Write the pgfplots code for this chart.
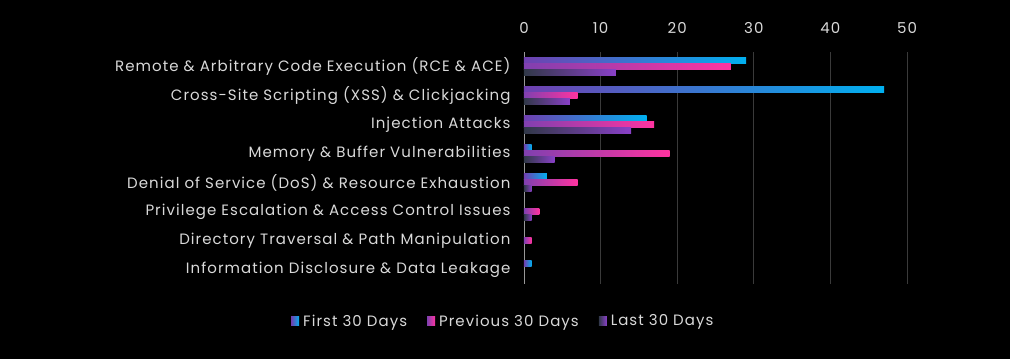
\documentclass[border=0pt]{standalone}
\usepackage{pgfplots}
\pgfplotsset{compat=1.18}
\usepackage{fontspec}
\setmainfont{Poppins}[LetterSpace=7]
\definecolor{txt}{HTML}{D9D9D9}
\definecolor{gridc}{HTML}{3A3A3A}
\definecolor{firstR}{HTML}{00B0F0}
\definecolor{firstL}{HTML}{7040B0}
\definecolor{prevR}{HTML}{FF33A0}
\definecolor{prevL}{HTML}{8040B0}
\definecolor{lastR}{HTML}{8A40C8}
\definecolor{lastL}{HTML}{303848}
\pgfplotsset{
  sfirst/.style={draw=none, left color=firstL, right color=firstR, bar shift=6pt},
  sprev/.style={draw=none, left color=prevL, right color=prevR, bar shift=0pt},
  slast/.style={draw=none, left color=lastL, right color=lastR, bar shift=-6pt},
}
\begin{document}
\begin{tikzpicture}
\fill[black] (-524pt,-75pt) rectangle (486pt,284pt);
\begin{axis}[
  at={(0,0)}, anchor=south west,
  scale only axis, width=383pt, height=232pt,
  xbar, bar width=5.5pt,
  xmin=0, xmax=50, ymin=-0.5, ymax=7.5, y dir=reverse,
  axis x line*=top, axis y line*=left,
  x axis line style={draw=none},
  y axis line style={draw=txt!70!black, line width=0.8pt, -},
  xmajorgrids, grid style={gridc, line width=0.8pt},
  xtick={0,10,...,50}, ytick={0,...,7},
  major tick length=0pt,
  /pgf/number format/assume math mode=true,
  tick label style={text=txt, font=\fontsize{15}{17}\selectfont},
  xticklabel style={yshift=15pt},
  yticklabel style={xshift=-10pt},
  yticklabels={Remote \& Arbitrary Code Execution (RCE \& ACE),Cross-Site Scripting (XSS) \& Clickjacking,Injection Attacks,Memory \& Buffer Vulnerabilities,Denial of Service (DoS) \& Resource Exhaustion,Privilege Escalation \& Access Control Issues,Directory Traversal \& Path Manipulation,Information Disclosure \& Data Leakage},
  legend columns=3,
  legend style={draw=none, fill=none, text=txt, font=\fontsize{15}{17}\selectfont,
    at={(-0.054,-0.16)}, anchor=center,
    /tikz/every even column/.append style={column sep=18pt},
    /tikz/every odd column/.append style={column sep=2pt}},
  legend image code/.code={\path[#1, draw=none] (0pt,-4.5pt) rectangle (8pt,4.5pt);},
]
% First 30 Days
\addplot[sfirst, forget plot] coordinates {(29,0)};
\addplot[sfirst, forget plot] coordinates {(47,1)};
\addplot[sfirst, forget plot] coordinates {(16,2)};
\addplot[sfirst, forget plot] coordinates {(1,3)};
\addplot[sfirst, forget plot] coordinates {(3,4)};
\addplot[sfirst, forget plot] coordinates {(1,7)};
% Previous 30 Days
\addplot[sprev, forget plot] coordinates {(27,0)};
\addplot[sprev, forget plot] coordinates {(7,1)};
\addplot[sprev, forget plot] coordinates {(17,2)};
\addplot[sprev, forget plot] coordinates {(19,3)};
\addplot[sprev, forget plot] coordinates {(7,4)};
\addplot[sprev, forget plot] coordinates {(2,5)};
\addplot[sprev, forget plot] coordinates {(1,6)};
% Last 30 Days
\addplot[slast, forget plot] coordinates {(12,0)};
\addplot[slast, forget plot] coordinates {(6,1)};
\addplot[slast, forget plot] coordinates {(14,2)};
\addplot[slast, forget plot] coordinates {(4,3)};
\addplot[slast, forget plot] coordinates {(1,4)};
\addplot[slast, forget plot] coordinates {(1,5)};
\addlegendimage{sfirst}
\addlegendimage{sprev}
\addlegendimage{slast}
\legend{First 30 Days, Previous 30 Days, Last 30 Days}
\end{axis}
\end{tikzpicture}
\end{document}
